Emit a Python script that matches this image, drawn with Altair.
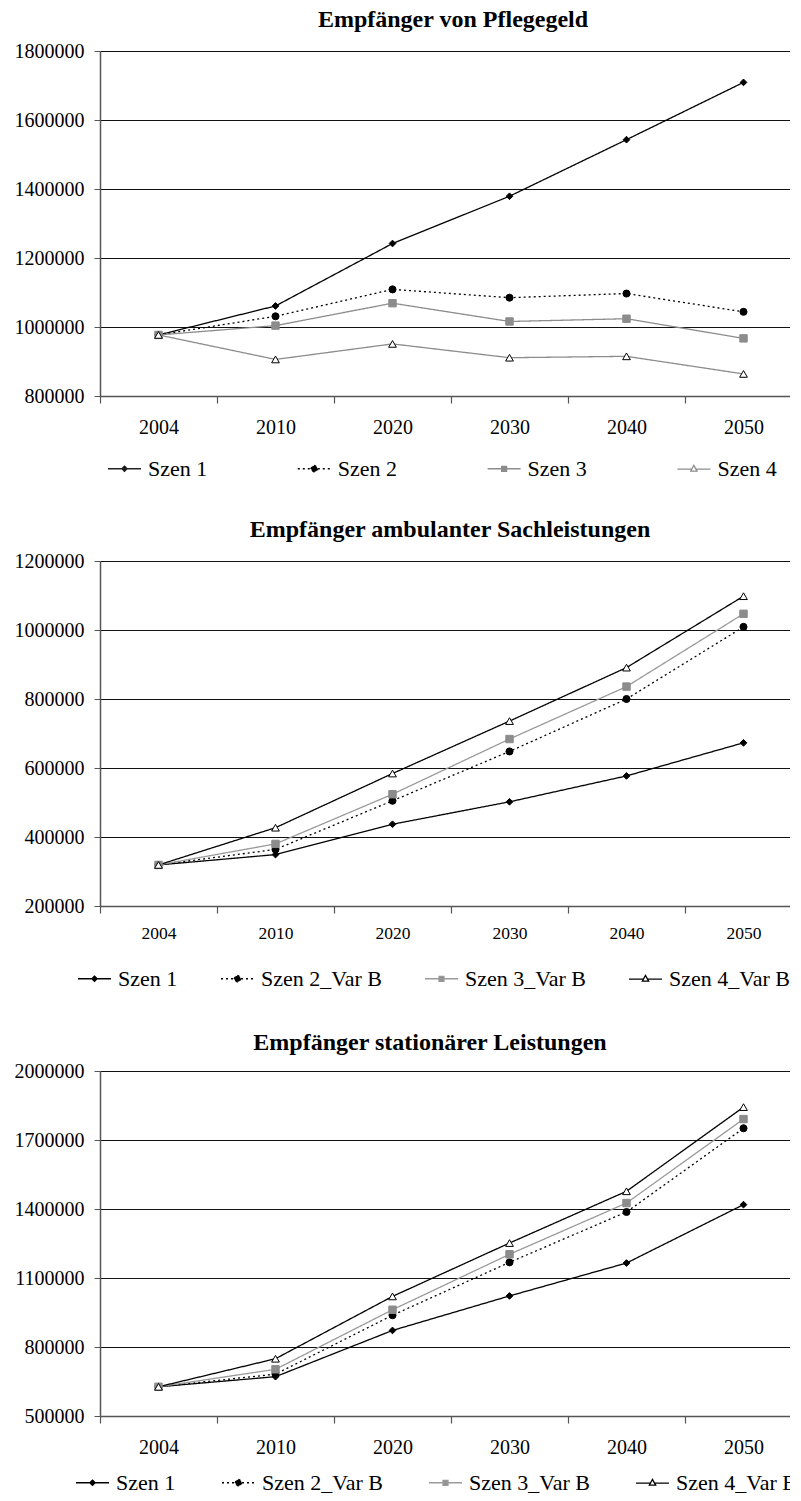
import altair as alt
import pandas as pd

# ---------------- data ----------------
years = ["2004", "2010", "2020", "2030", "2040", "2050"]

title1 = "Empfänger von Pflegegeld"
series1 = ["Szen 1", "Szen 2", "Szen 3", "Szen 4"]
c1_s1 = [977000, 1061000, 1242000, 1379000, 1543000, 1709000]
c1_s2 = [977000, 1031000, 1109000, 1085000, 1097000, 1044000]
c1_s3 = [977000, 1004000, 1069000, 1016000, 1024000, 967000]
c1_s4 = [977000, 906000, 951000, 911000, 915000, 864000]
c1_ticks = [800000, 1000000, 1200000, 1400000, 1600000, 1800000]

title2 = "Empfänger ambulanter Sachleistungen"
series2 = ["Szen 1", "Szen 2_Var B", "Szen 3_Var B", "Szen 4_Var B"]
c2_s1 = [319000, 349000, 437000, 502000, 577000, 673000]
c2_s2 = [319000, 364000, 505000, 648000, 800000, 1009000]
c2_s3 = [319000, 380000, 524000, 684000, 836000, 1047000]
c2_s4 = [319000, 427000, 584000, 736000, 891000, 1098000]
c2_ticks = [200000, 400000, 600000, 800000, 1000000, 1200000]

title3 = "Empfänger stationärer Leistungen"
series3 = ["Szen 1", "Szen 2_Var B", "Szen 3_Var B", "Szen 4_Var B"]
c3_s1 = [627000, 671000, 872000, 1022000, 1165000, 1419000]
c3_s2 = [627000, 682000, 938000, 1168000, 1387000, 1751000]
c3_s3 = [627000, 703000, 962000, 1203000, 1426000, 1791000]
c3_s4 = [627000, 749000, 1020000, 1252000, 1477000, 1843000]
c3_ticks = [500000, 800000, 1100000, 1400000, 1700000, 2000000]

# ---------------- styles ----------------
FONT = "Times New Roman"
GRAY1 = "#8c8c8c"
GRAY2 = "#9a9a9a"

marker_shapes = ["diamond", "circle", "square", "triangle-up"]
marker_sizes = [45, 60, 45, 60]
dashes = [[1, 0], [2, 3], [1, 0], [1, 0]]
legend_paths = [
    "M-1,0L1,0M0,-0.16L0.16,0L0,0.16L-0.16,0Z",
    "M-1,0L1,0M0.2,0L0.14,0.14L0,0.2L-0.14,0.14L-0.2,0L-0.14,-0.14L0,-0.2L0.14,-0.14Z",
    "M-1,0L1,0M-0.15,-0.15L0.15,-0.15L0.15,0.15L-0.15,0.15Z",
    "M-1,0.02L-0.12,0.02M0.12,0.02L1,0.02M0,-0.2L0.19,0.14L-0.19,0.14Z",
]


def long_df(series, cols):
    rows = []
    for name, vals in zip(series, cols):
        for y, v in zip(years, vals):
            rows.append({"year": y, "value": v, "series": name})
    return pd.DataFrame(rows)


def make_chart(title, series, cols, ticks, line_colors, mfill, mstroke,
               lfill, lstroke, xfs, xpad, col_pad, legend_x, legend_y, legend_fs,
               title_dx, title_off):
    df = long_df(series, cols)
    x = alt.X(
        "year:N",
        sort=years,
        scale=alt.Scale(type="band", domain=years, paddingInner=0, paddingOuter=0),
        bandPosition=0.5,
        axis=alt.Axis(
            title=None, labelAngle=0, tickBand="extent", tickSize=7,
            tickColor="#555", domainColor="#555", domainWidth=1.5, tickWidth=1.2,
            labelFont=FONT, labelFontSize=xfs, labelColor="black",
            labelPadding=xpad, grid=False,
        ),
    )
    y = alt.Y(
        "value:Q",
        scale=alt.Scale(domain=[ticks[0], ticks[-1]], nice=False, zero=False),
        axis=alt.Axis(
            title=None, values=ticks, format="d", grid=True, gridColor="#111",
            gridWidth=1, tickSize=6, tickColor="#555", domainColor="#555",
            domainWidth=1.5, labelFont=FONT, labelFontSize=20, labelColor="black",
            labelPadding=10,
        ),
    )
    base = alt.Chart(df)
    lines = base.mark_line(strokeWidth=1.3).encode(
        x=x, y=y,
        color=alt.Color("series:N", scale=alt.Scale(domain=series, range=line_colors), legend=None),
        strokeDash=alt.StrokeDash("series:N", scale=alt.Scale(domain=series, range=dashes), legend=None),
    )
    points = base.mark_point(opacity=1, strokeWidth=1).encode(
        x=x, y=y,
        shape=alt.Shape("series:N", scale=alt.Scale(domain=series, range=marker_shapes), legend=None),
        fill=alt.Fill("series:N", scale=alt.Scale(domain=series, range=mfill), legend=None),
        stroke=alt.Stroke("series:N", scale=alt.Scale(domain=series, range=mstroke), legend=None),
        size=alt.Size("series:N", scale=alt.Scale(domain=series, range=marker_sizes), legend=None),
    )
    leg = alt.Legend(
        title=None, orient="none", legendX=legend_x, legendY=legend_y, direction="horizontal",
        columnPadding=col_pad, symbolSize=1089, symbolStrokeWidth=1.3, symbolOpacity=1,
        labelFont=FONT, labelFontSize=legend_fs, labelColor="black", labelOffset=6,
        labelLimit=300, padding=0,
    )
    legend_layer = base.mark_point(opacity=1).encode(
        shape=alt.Shape("series:N", scale=alt.Scale(domain=series, range=legend_paths), legend=leg),
        fill=alt.Fill("series:N", scale=alt.Scale(domain=series, range=lfill), legend=leg),
        stroke=alt.Stroke("series:N", scale=alt.Scale(domain=series, range=lstroke), legend=leg),
        strokeDash=alt.StrokeDash("series:N", scale=alt.Scale(domain=series, range=dashes), legend=leg),
    ).transform_filter("false")

    return alt.layer(lines, points, legend_layer).resolve_scale(
        color="independent", shape="independent", fill="independent",
        stroke="independent", strokeDash="independent", size="independent",
    ).properties(
        width=702, height=345,
        title=alt.TitleParams(
            text=title, font=FONT, fontSize=24, fontWeight="bold", color="black",
            anchor="middle", frame="group", offset=title_off, dx=title_dx,
        ),
    )


ch1 = make_chart(
    title1, series1, [c1_s1, c1_s2, c1_s3, c1_s4], c1_ticks,
    line_colors=["#000", "#000", GRAY1, GRAY1],
    mfill=["#000", "#000", GRAY1, "#fff"], mstroke=["#000", "#000", GRAY1, "#000"],
    lfill=["#000", "#000", GRAY1, "#fff"], lstroke=["#222", "#000", GRAY1, GRAY1],
    xfs=20, xpad=14.5, col_pad=86.8, legend_x=7, legend_y=400, legend_fs=22,
    title_dx=2, title_off=9,
)
ch2 = make_chart(
    title2, series2, [c2_s1, c2_s2, c2_s3, c2_s4], c2_ticks,
    line_colors=["#000", "#000", GRAY2, "#000"],
    mfill=["#000", "#000", GRAY1, "#fff"], mstroke=["#000", "#000", GRAY1, "#000"],
    lfill=["#000", "#000", GRAY1, "#fff"], lstroke=["#000", "#000", GRAY2, "#000"],
    xfs=17.5, xpad=11.5, col_pad=40, legend_x=-23, legend_y=400, legend_fs=22,
    title_dx=-1, title_off=9,
)
ch3 = make_chart(
    title3, series3, [c3_s1, c3_s2, c3_s3, c3_s4], c3_ticks,
    line_colors=["#000", "#000", GRAY2, "#000"],
    mfill=["#000", "#000", GRAY1, "#fff"], mstroke=["#000", "#000", GRAY1, "#000"],
    lfill=["#000", "#000", GRAY1, "#fff"], lstroke=["#000", "#000", GRAY2, "#000"],
    xfs=20, xpad=14, col_pad=43, legend_x=-25, legend_y=394, legend_fs=22,
    title_dx=-21, title_off=6,
)

chart = alt.vconcat(ch1, ch2, ch3, spacing=165, bounds="flush").properties(
    padding={"left": 6, "top": 0, "right": -13, "bottom": -1},
).configure(
    font=FONT, background="white"
).configure_view(
    stroke=None
)

chart.save("out.html", embed_options={"renderer": "svg", "actions": False})
